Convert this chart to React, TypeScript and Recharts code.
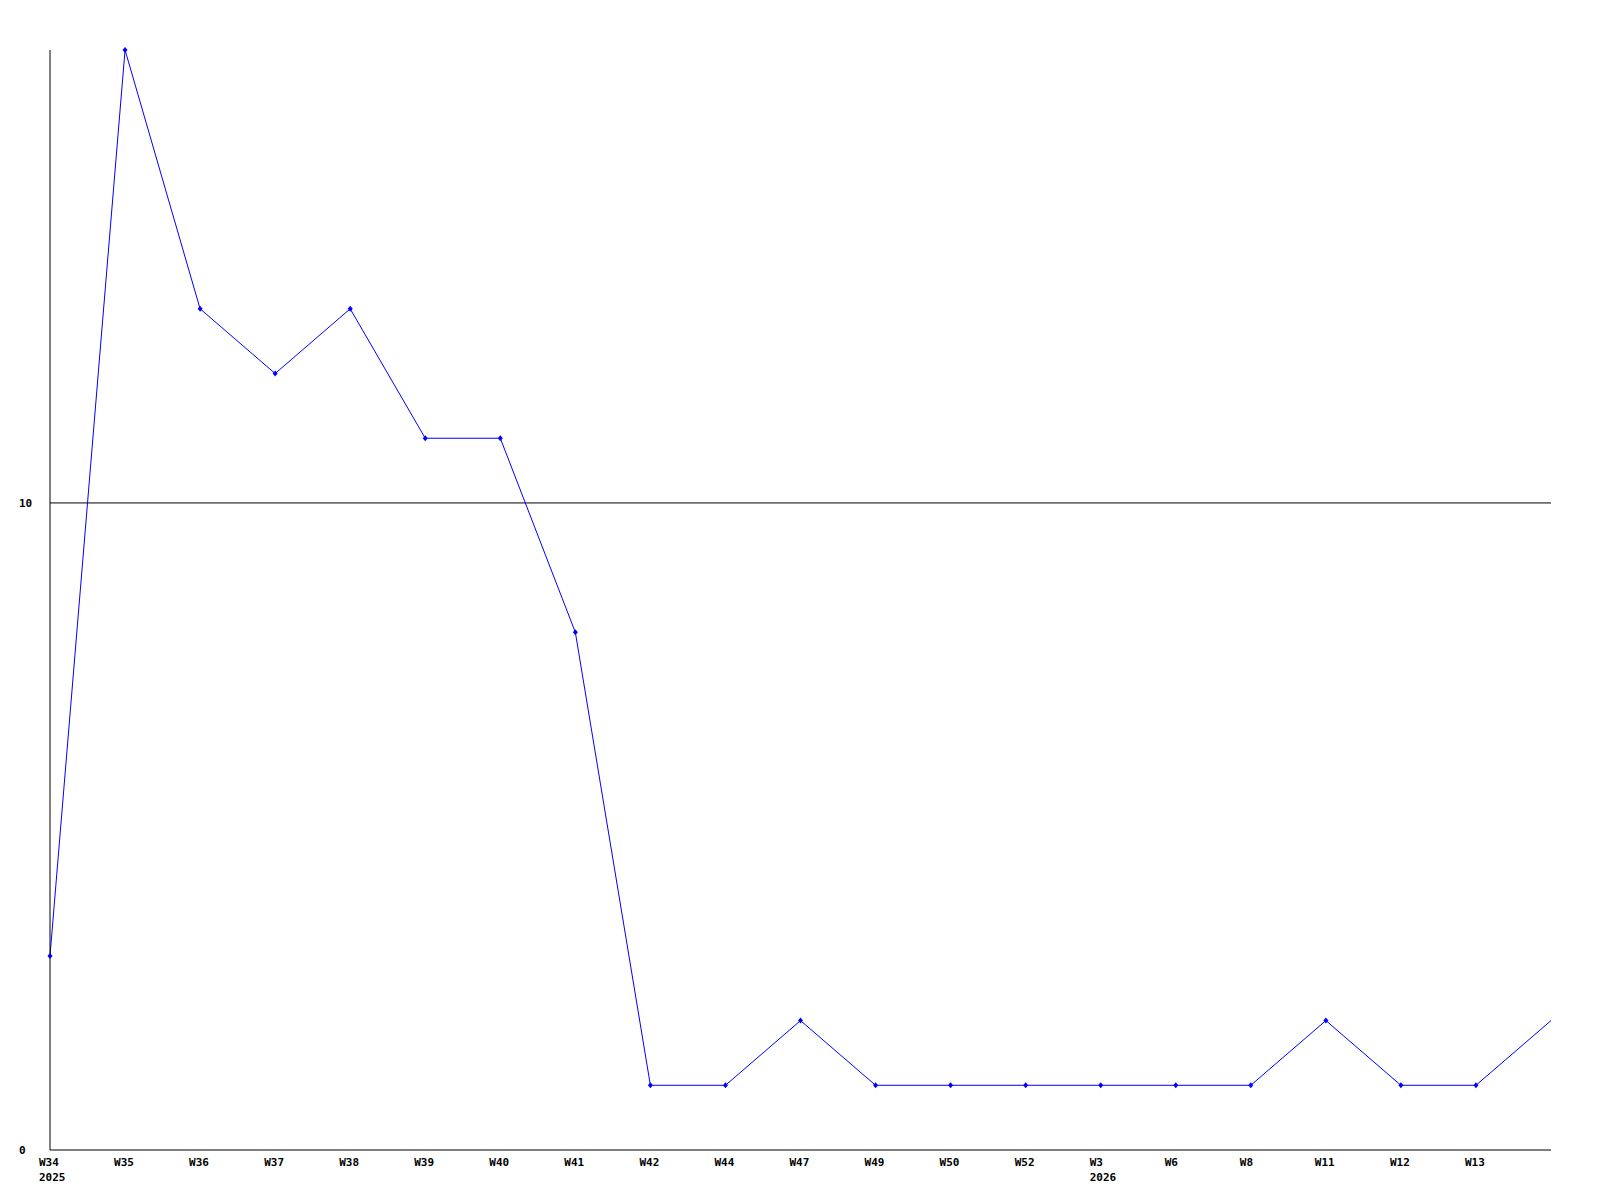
import React from "react";
import { LineChart, Line, XAxis, YAxis, ReferenceLine } from "recharts";

const weeks = ["W34", "W35", "W36", "W37", "W38", "W39", "W40", "W41", "W42", "W44", "W47", "W49", "W50", "W52", "W3", "W6", "W8", "W11", "W12", "W13", ""];
const years = ["2025", "", "", "", "", "", "", "", "", "", "", "", "", "", "2026", "", "", "", "", "", ""];
const counts = [3, 17, 13, 12, 13, 11, 11, 8, 1, 1, 2, 1, 1, 1, 1, 1, 1, 2, 1, 1, 2];
const yTicks = [0, 10];

const data = weeks.map((w, i) => ({ idx: i, week: w, year: years[i], count: counts[i] }));

const FONT = "'DejaVu Sans Mono', monospace";

const XTick = (props: any) => {
  const { x, y, payload } = props;
  const i = payload.value as number;
  return (
    <g>
      <text x={x - 11} y={y + 8} textAnchor="start" fontFamily={FONT} fontWeight="bold" fontSize={11} fill="#000">
        {weeks[i]}
      </text>
      {years[i] ? (
        <text x={x - 11} y={y + 23} textAnchor="start" fontFamily={FONT} fontWeight="bold" fontSize={11} fill="#000">
          {years[i]}
        </text>
      ) : null}
    </g>
  );
};

const YTick = (props: any) => {
  const { y, payload } = props;
  return (
    <text x={19} y={y + 4} textAnchor="start" fontFamily={FONT} fontWeight="bold" fontSize={11} fill="#000">
      {payload.value}
    </text>
  );
};

const Dot = (props: any) => {
  const { cx, cy, index } = props;
  if (index === counts.length - 1 || cx == null) return <g key={index} />;
  return (
    <g key={index}>
      <polygon points={`${cx},${cy - 3} ${cx + 2.5},${cy} ${cx},${cy + 3} ${cx - 2.5},${cy}`} fill="#0000ff" />
    </g>
  );
};

export default function App() {
  return (
    <div style={{ position: "absolute", left: 0, top: 0, background: "#fff" }}>
      <LineChart width={1600} height={1200} data={data} margin={{ top: 50, right: 49, bottom: 0, left: 0 }}>
        <XAxis
          dataKey="idx"
          type="category"
          height={50}
          axisLine={{ stroke: "#000", strokeWidth: 1 }}
          tickLine={false}
          interval={0}
          tick={<XTick />}
        />
        <YAxis
          type="number"
          domain={[0, 17]}
          ticks={yTicks}
          width={50}
          axisLine={{ stroke: "#000", strokeWidth: 1 }}
          tickLine={false}
          tick={<YTick />}
        />
        <ReferenceLine y={10} stroke="#000" strokeWidth={1} />
        <Line
          type="linear"
          dataKey="count"
          stroke="#0000ff"
          strokeWidth={1}
          dot={<Dot />}
          activeDot={false}
          isAnimationActive={false}
        />
      </LineChart>
    </div>
  );
}
